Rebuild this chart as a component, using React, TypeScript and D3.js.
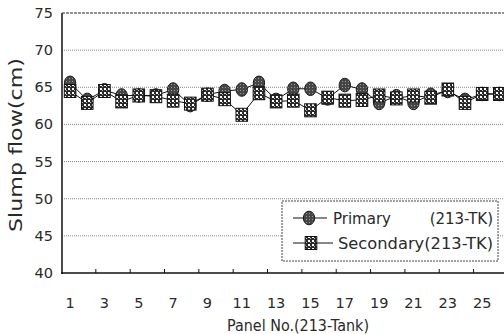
import React from "react";
import * as d3 from "d3";

const panels: number[] = d3.range(1, 27);
const primary: number[] = [65.6, 63.3, 64.6, 63.9, 63.9, 63.9, 64.7, 62.6, 64.0, 64.5, 64.7, 65.6, 63.3, 64.8, 64.8, 63.5, 65.3, 64.7, 62.9, 63.8, 62.9, 64.0, 64.5, 63.3, 64.1, 64.1];
const secondary: number[] = [64.5, 62.9, 64.5, 63.1, 63.9, 63.8, 63.2, 62.8, 64.0, 63.4, 61.3, 64.2, 63.1, 63.2, 61.9, 63.6, 63.2, 63.3, 63.9, 63.5, 63.9, 63.6, 64.7, 62.9, 64.1, 64.1];
const yTicks: number[] = [40, 45, 50, 55, 60, 65, 70, 75];
const xLabels: number[] = [1, 3, 5, 7, 9, 11, 13, 15, 17, 19, 21, 23, 25];
const seriesNames: string[] = ["Primary", "Secondary"];
const seriesSuffix = "(213-TK)";

const W = 504;
const H = 334;
const FONT = "'DejaVu Sans', 'Liberation Sans', sans-serif";
const TXT = "#2a2a2a";

export default function App() {
  const x = d3.scaleBand<number>().domain(panels).range([61.5, 61.5 + 26 * 17.17]).padding(0);
  const y = d3.scaleLinear().domain([40, 75]).range([273, 13]);
  const cx = (p: number) => (x(p) as number) + x.bandwidth() / 2;
  const line = d3
    .line<number>()
    .x((_, i) => cx(panels[i]))
    .y((v) => y(v));

  const Circle = ({ px, py }: { px: number; py: number }) => (
    <ellipse cx={px} cy={py} rx={5.7} ry={6.8} fill="url(#dotFill)" stroke="#1a1a1a" strokeWidth={1} />
  );
  const Square = ({ px, py }: { px: number; py: number }) => (
    <rect x={px - 5.8} y={py - 6.5} width={11.6} height={13} fill="url(#checkFill)" stroke="#111" strokeWidth={1} />
  );

  const legX = 282, legY = 201, legW = 216, legH = 60;
  const row1 = 218, row2 = 243;

  return (
    <div style={{ position: "fixed", left: 0, top: 0, width: W, height: H, background: "#fff" }}>
      <svg width={W} height={H} viewBox={`0 0 ${W} ${H}`} style={{ display: "block" }}>
        <defs>
          <pattern id="checkFill" width="4" height="4" patternUnits="userSpaceOnUse">
            <rect width="4" height="4" fill="#2a2a2a" />
            <rect x="0" y="0" width="2" height="2" fill="#ffffff" />
            <rect x="2" y="2" width="1" height="1" fill="#bbbbbb" />
          </pattern>
          <pattern id="dotFill" width="3" height="3" patternUnits="userSpaceOnUse">
            <rect width="3" height="3" fill="#464646" />
            <rect x="0" y="0" width="1" height="1" fill="#9a9a9a" />
          </pattern>
        </defs>
        <rect width={W} height={H} fill="#fff" />

        {/* gridlines */}
        {yTicks.filter((t) => t > 40).map((t) => (
          <line
            key={t}
            x1={62}
            x2={W}
            y1={y(t)}
            y2={y(t)}
            stroke={t === 75 ? "#222" : "#888"}
            strokeWidth={1}
            strokeDasharray={t === 75 ? "3,1" : "1,1"}
          />
        ))}

        {/* axes */}
        <line x1={62} x2={62} y1={13} y2={274} stroke="#111" strokeWidth={1.5} />
        <line x1={61} x2={W} y1={273} y2={273} stroke="#111" strokeWidth={1.5} />
        {panels.filter((p) => p % 2 === 1 && p > 1).map((p) => (
          <line key={p} x1={x(p) as number} x2={x(p) as number} y1={273} y2={269} stroke="#111" strokeWidth={1} />
        ))}

        {/* y labels */}
        {yTicks.map((t) => (
          <text key={t} x={53} y={y(t) + 5} textAnchor="end" fontFamily={FONT} fontSize={14.5} fill={TXT}>
            {t}
          </text>
        ))}
        {/* x labels */}
        {xLabels.map((p) => (
          <text key={p} x={cx(p)} y={308} textAnchor="middle" fontFamily={FONT} fontSize={14.5} fill={TXT}>
            {p}
          </text>
        ))}

        {/* axis titles */}
        <text
          transform={`translate(22,145) rotate(-90)`}
          textAnchor="middle"
          fontFamily={FONT}
          fontSize={17}
          fill={TXT}
          textLength={174}
          lengthAdjust="spacingAndGlyphs"
        >
          Slump flow(cm)
        </text>
        <text x={298} y={331} textAnchor="middle" fontFamily={FONT} fontSize={16} fill={TXT} textLength={142} lengthAdjust="spacingAndGlyphs">
          Panel No.(213-Tank)
        </text>

        {/* series lines */}
        <path d={line(primary) ?? ""} fill="none" stroke="#111" strokeWidth={1} />
        <path d={line(secondary) ?? ""} fill="none" stroke="#111" strokeWidth={1} />
        {primary.map((v, i) => (
          <Circle key={`p${i}`} px={cx(panels[i])} py={y(v)} />
        ))}
        {secondary.map((v, i) => (
          <Square key={`s${i}`} px={cx(panels[i])} py={y(v)} />
        ))}

        {/* legend */}
        <rect x={legX} y={legY} width={legW} height={legH} fill="#fff" stroke="#444" strokeWidth={1} strokeDasharray="2,1" />
        <line x1={293} x2={327} y1={row1} y2={row1} stroke="#111" strokeWidth={1} />
        <Circle px={309} py={row1} />
        <text x={333} y={row1 + 5.5} fontFamily={FONT} fontSize={15} fill={TXT}>
          {seriesNames[0]}
        </text>
        <text x={493} y={row1 + 5.5} textAnchor="end" fontFamily={FONT} fontSize={15} fill={TXT}>
          {seriesSuffix}
        </text>
        <line x1={293} x2={333} y1={row2} y2={row2} stroke="#111" strokeWidth={1} />
        <Square px={311} py={row2} />
        <text x={338} y={row2 + 5.5} fontFamily={FONT} fontSize={15} fill={TXT} textLength={155} lengthAdjust="spacingAndGlyphs">
          {seriesNames[1] + seriesSuffix}
        </text>
      </svg>
    </div>
  );
}
